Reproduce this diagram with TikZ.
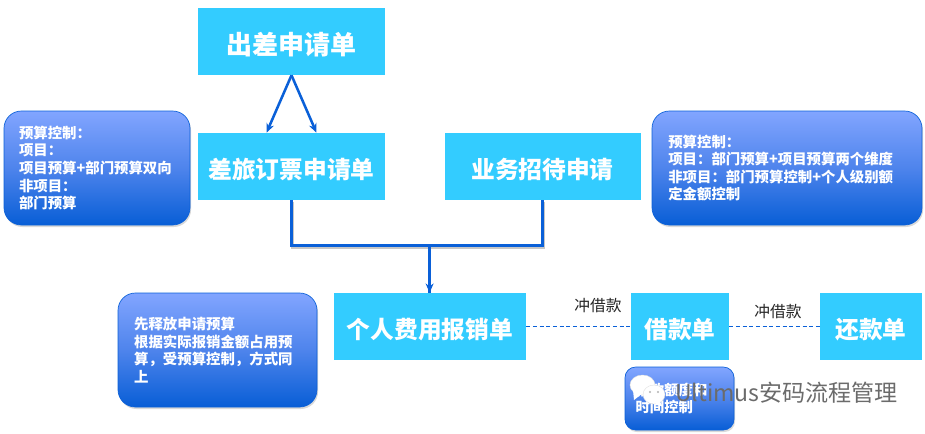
\documentclass[tikz,border=0pt]{standalone}
\usepackage{xcolor}
\definecolor{boxcyan}{RGB}{51,204,255}
\definecolor{linkblue}{RGB}{10,96,216}
\definecolor{notetop}{RGB}{130,165,255}
\definecolor{notemid}{RGB}{78,132,236}
\definecolor{notebot}{RGB}{8,94,214}
\usepackage{fontspec}
\setmainfont{Noto Sans CJK SC}
\usepackage{tikz}
\usetikzlibrary{arrows.meta, positioning, shadows, calc}

\begin{document}
\begin{tikzpicture}[
  x=0.75pt, y=-0.75pt,
  formbox/.style={rectangle, fill=boxcyan, text=white, minimum height=50.25pt,
                  inner sep=0pt, text height=17.6pt, text depth=0pt,
                  font=\fontsize{17.8}{20}\selectfont\bfseries},
  note/.style={rectangle, rounded corners=13pt, draw=linkblue, line width=0.5pt,
               top color=notetop, bottom color=notebot, middle color=notemid,
               minimum height=85.5pt, inner sep=0pt, align=left, text=white,
               drop shadow={shadow xshift=0.8pt, shadow yshift=-1.5pt, opacity=0.3},
               font=\fontsize{10.8}{13.2}\selectfont\bfseries},
  link/.style={-{Stealth[length=7pt,width=6pt]}, line width=1.9pt, color=linkblue},
  shadowed/.style={preaction={draw=black!22, line width=2.2pt,
                   transform canvas={shift={(0.8pt,-1.2pt)}}}},
  bracket/.style={line width=2.2pt, color=linkblue, line join=miter},
  offset/.style={dashed, dash pattern=on 3pt off 2pt, line width=0.7pt, color=linkblue},
  tag/.style={font=\fontsize{11.8}{13}\selectfont, text=black!85},
  bubble/.style={fill=white, draw=black!12, line width=0.3pt}
]
  \useasboundingbox (0,0) rectangle (925,433);

  % Forms
  \node[formbox, minimum width=140.25pt, font=\fontsize{19.5}{22}\selectfont\bfseries,
        text height=19pt] (trip) at (291.5, 41.5) {出差申请单};
  \node[formbox, minimum width=140.25pt] (ticket)  at (291.5,166.5)  {差旅订票申请单};
  \node[formbox, minimum width=147pt]    (hosting) at (542.5,166.5)  {业务招待申请};
  \node[formbox, minimum width=144pt]    (expense) at (430,  326.5)  {个人费用报销单};
  \node[formbox, minimum width=73.5pt]   (loan)    at (680,  326.5)  {借款单};
  \node[formbox, minimum width=76.5pt]   (repay)   at (871,  326.5)  {还款单};

  % Budget notes
  \node[note, minimum width=139.5pt, text width=117pt] (ticketnote) at (97,168)
    {预算控制：\\项目：\\项目预算+部门预算双向\\非项目：\\部门预算};
  \node[note, minimum width=202.5pt, text width=178pt] (hostingnote) at (787,168)
    {预算控制：\\项目：部门预算+项目预算两个维度\\非项目：部门预算控制+个人级别额\\定金额控制};
  \node[note, minimum width=149.25pt, text width=125pt] (expensenote) at (217.5,350)
    {先释放申请预算\\根据实际报销金额占用预\\算，受预算控制，方式同\\上};
  \node[note, minimum width=81.75pt, minimum height=47.25pt, rounded corners=8pt,
        text width=66pt] (loannote) at (679.5,398.5)
    {借款额度和\\时间控制};

  % Links
  \draw[link] (trip.south) -- ($(ticket.north)+(-25,0)$);
  \draw[link] (trip.south) -- ($(ticket.north)+(25,0)$);
  \coordinate (join) at (429.6,245.5);
  \draw[bracket, shadowed] (ticket.south) |- (join) -| (hosting.south);
  \draw[bracket] (join) -- (join |- expense.north);
  \draw[link, line width=1pt] ($(join |- expense.north)+(0,-12)$) -- (join |- expense.north);

  % Offsets
  \draw[offset] (expense.east) -- (loan.west);
  \draw[offset] (loan.east) -- (repay.west);
  \node[tag] (offsetone) at (598,306) {冲借款};
  \node[tag] (offsettwo) at (778,312) {冲借款};

  % Watermark
  \draw[bubble] (642.5,385) ellipse (12.5 and 10);
  \fill[white] (633,390) -- (634,400) -- (643,393) -- cycle;
  \draw[bubble] (654,394.5) ellipse (11 and 9.5);
  \fill[white] (659,400) -- (663,407) -- (652,402) -- cycle;
  \fill[black!30] (650,392) circle (1.2) (658,392) circle (1.2);
  \node[font=\fontsize{17.3}{19}\selectfont, text=black!58, anchor=west, inner sep=0pt] (mark)
    at (675,393) {Ultimus安码流程管理};
\end{tikzpicture}
\end{document}
